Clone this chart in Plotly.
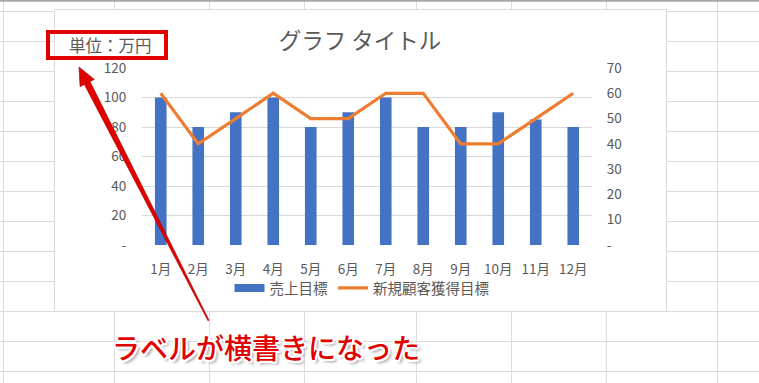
import math
import plotly.graph_objects as go

# ---- data ----
months = ["1月", "2月", "3月", "4月", "5月", "6月", "7月", "8月", "9月", "10月", "11月", "12月"]
sales_target = [100, 80, 90, 100, 80, 90, 100, 80, 80, 90, 85, 80]
new_customer_target = [60, 40, 50, 60, 50, 50, 60, 60, 40, 40, 50, 60]
left_tickvals = [0, 20, 40, 60, 80, 100, 120]
left_ticktext = ["-", "20", "40", "60", "80", "100", "120"]
right_tickvals = [0, 10, 20, 30, 40, 50, 60, 70]
right_ticktext = ["-", "10", "20", "30", "40", "50", "60", "70"]
series_names = ["売上目標", "新規顧客獲得目標"]
chart_title = "グラフ タイトル"
unit_label = "単位：万円"
callout_text = "ラベルが横書きになった"

# ---- geometry (pixels) ----
W, H = 759, 383
PL, PR, PT, PB = 142, 592, 68, 245  # plot area in pixels


def px(x):
    return (x - PL) / (PR - PL)


def py(y):
    return (PB - y) / (PB - PT)


GRAY_TXT = "#595959"
GRID = "#d9d9d9"
FONT = "Noto Sans CJK JP"
BLUE = "#4472C4"
ORANGE = "#ED7D31"

fig = go.Figure()
fig.add_trace(go.Bar(
    x=months, y=sales_target, name=series_names[0],
    marker=dict(color=BLUE, line=dict(width=0)),
    yaxis="y", legendgroup="sales", showlegend=False,
))
# legend entry for the bars drawn as a wide, flat swatch (Excel style)
fig.add_trace(go.Scatter(
    x=[None], y=[None], name=series_names[0], mode="lines",
    line=dict(color=BLUE, width=8), legendgroup="sales", showlegend=True,
    hoverinfo="skip",
))
fig.add_trace(go.Scatter(
    x=months, y=new_customer_target, name=series_names[1],
    mode="lines", line=dict(color=ORANGE, width=3.2),
    yaxis="y2",
))

shapes = []
# spreadsheet grid
for y in range(11, 383, 30):
    shapes.append(dict(type="line", xref="paper", yref="paper", layer="below",
                       x0=px(0), x1=px(W), y0=py(y + 0.5), y1=py(y + 0.5),
                       line=dict(color="#dcdcdc", width=1)))
for x in [3, 114, 209, 304, 416, 511, 606, 717]:
    shapes.append(dict(type="line", xref="paper", yref="paper", layer="below",
                       x0=px(x + 0.5), x1=px(x + 0.5), y0=py(0), y1=py(H),
                       line=dict(color="#dcdcdc", width=1)))
shapes.append(dict(type="line", xref="paper", yref="paper", layer="below",
                   x0=px(0), x1=px(W), y0=py(0.8), y1=py(0.8),
                   line=dict(color="#a6a6a6", width=2)))
# chart area
shapes.append(dict(type="rect", xref="paper", yref="paper", layer="below",
                   x0=px(54.5), x1=px(666.5), y0=py(9.5), y1=py(311.5),
                   fillcolor="white", line=dict(color="#d9d9d9", width=1)))
# red box around unit label
shapes.append(dict(type="rect", xref="paper", yref="paper", layer="above",
                   x0=px(48), x1=px(166), y0=py(32), y1=py(58),
                   fillcolor="rgba(0,0,0,0)", line=dict(color="#e00000", width=4)))

# red tapered arrow
tip = (79.0, 67.0)
tail = (208.5, 320.5)
dx, dy = tip[0] - tail[0], tip[1] - tail[1]
L = math.hypot(dx, dy)
ux, uy = dx / L, dy / L
nx, ny = -uy, ux
head_len, head_hw, shaft_hw, tail_hw = 18.0, 8.0, 3.2, 0.6
bx, by = tip[0] - ux * head_len, tip[1] - uy * head_len
pts = [
    (tail[0] + nx * tail_hw, tail[1] + ny * tail_hw),
    (bx + nx * shaft_hw, by + ny * shaft_hw),
    (bx + nx * head_hw, by + ny * head_hw),
    tip,
    (bx - nx * head_hw, by - ny * head_hw),
    (bx - nx * shaft_hw, by - ny * shaft_hw),
    (tail[0] - nx * tail_hw, tail[1] - ny * tail_hw),
]
path = "M " + " L ".join(f"{px(a):.5f},{py(b):.5f}" for a, b in pts) + " Z"
shapes.append(dict(type="path", xref="paper", yref="paper", layer="above",
                   path=path, fillcolor="#e00000", line=dict(color="#b00000", width=0.6)))

annotations = [
    dict(text=unit_label, xref="paper", yref="paper", x=px(110), y=py(44.5),
         xanchor="center", yanchor="middle", showarrow=False,
         font=dict(family=FONT, size=16.5, color=GRAY_TXT)),
    dict(text=callout_text, xref="paper", yref="paper", x=px(265.5), y=py(347),
         xanchor="center", yanchor="middle", showarrow=False,
         font=dict(family=FONT, size=28, color="#e00000", weight=500,
                   shadow="-1.5px -1.5px 0 #fff, 1.5px -1.5px 0 #fff, -1.5px 1.5px 0 #fff, 1.5px 1.5px 0 #fff, 0 2px 0 #fff, 2px 0 0 #fff, -2px 0 0 #fff, 0 -2px 0 #fff, 3px 3px 3px #999")),
]

fig.update_layout(
    width=W, height=H, autosize=False,
    margin=dict(l=PL, r=W - PR, t=PT, b=H - PB, pad=0),
    paper_bgcolor="white", plot_bgcolor="rgba(0,0,0,0)",
    font=dict(family=FONT, color=GRAY_TXT, size=13),
    title=dict(text=chart_title, xref="container", yref="container",
               x=360 / W, y=1 - 41 / H, xanchor="center", yanchor="middle",
               font=dict(family=FONT, size=22.5, color=GRAY_TXT)),
    bargap=0.69,
    showlegend=True,
    legend=dict(orientation="h", xref="paper", yref="paper",
                x=px(362), y=py(288), xanchor="center", yanchor="middle",
                font=dict(family=FONT, size=14.5, color=GRAY_TXT),
                bgcolor="rgba(0,0,0,0)", itemwidth=30, tracegroupgap=0),
    xaxis=dict(type="category", showgrid=False, showline=False, zeroline=False,
               ticks="outside", ticklen=12, tickcolor="rgba(0,0,0,0)",
               tickfont=dict(family=FONT, size=13.5, color=GRAY_TXT)),
    yaxis=dict(range=[0, 120], tickvals=left_tickvals, ticktext=left_ticktext,
               showgrid=True, gridcolor=GRID, gridwidth=1, showline=False, zeroline=False,
               ticks="outside", ticklen=12, tickcolor="rgba(0,0,0,0)",
               tickfont=dict(family=FONT, size=13.5, color=GRAY_TXT)),
    yaxis2=dict(range=[0, 70], tickvals=right_tickvals, ticktext=right_ticktext,
                overlaying="y", side="right", showgrid=False, showline=False, zeroline=False,
                ticks="outside", ticklen=11, tickcolor="rgba(0,0,0,0)",
                tickfont=dict(family=FONT, size=13.5, color=GRAY_TXT)),
    shapes=shapes,
    annotations=annotations,
)

fig.write_html(
    "out.html",
    config={"displayModeBar": False},
    post_script="document.body.style.margin='0';document.body.style.padding='0';document.body.style.overflow='hidden';",
)
